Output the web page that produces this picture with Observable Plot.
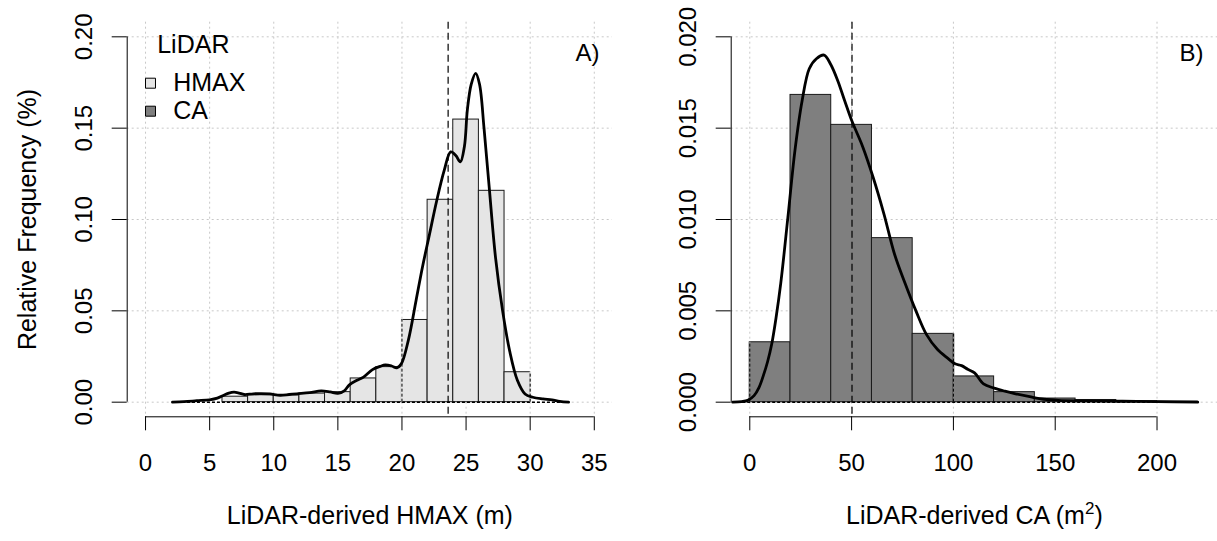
<!DOCTYPE html>
<html><head><meta charset="utf-8">
<script src="https://cdn.jsdelivr.net/npm/d3@7"></script>
<script src="https://cdn.jsdelivr.net/npm/@observablehq/plot@0.6"></script>
<style>
body{margin:0;background:#fff;}
#wrap{position:relative;width:1217px;height:541px;overflow:hidden;background:#fff;}
#left{position:absolute;left:0;top:0;}
#right{position:absolute;left:640px;top:0;}
svg text{font-family:"Liberation Sans",Arial,sans-serif;}
</style></head>
<body><div id="wrap"><div id="left"></div><div id="right"></div></div>
<script>
// ---------- Panel A: LiDAR-derived HMAX ----------
const hmaxBreaks = [6, 8, 10, 12, 14, 16, 18, 20, 22, 24, 26, 28, 30];
const hmaxFreq   = [0.0030, 0.0038, 0.0037, 0.0047, 0.0055, 0.0130, 0.0192, 0.0450, 0.1108, 0.1547, 0.1157, 0.0164];
const hmaxDensX  = [2.1, 3, 4, 5, 5.6, 6.1, 6.5, 6.9, 7.3, 7.7, 8.4, 9.0, 9.7, 10.5, 11.2, 11.8, 12.8, 13.7, 14.4, 15.0, 15.5, 15.9, 16.5, 17.0, 17.7, 18.3, 18.7, 19.2, 19.6, 19.95, 20.5, 21.1, 21.6, 22.15, 22.7, 23.3, 23.8, 24.2, 24.55, 24.87, 25.1, 25.4, 25.75, 26.05, 26.4, 26.8, 27.3, 27.85, 28.4, 29.0, 29.6, 30.2, 31.0, 31.7, 32.3, 33.0];
const hmaxDensY  = [0, 0.0003, 0.0008, 0.0013, 0.0022, 0.0038, 0.0050, 0.0055, 0.0050, 0.0042, 0.0046, 0.0047, 0.0045, 0.0038, 0.0042, 0.0046, 0.0052, 0.0062, 0.0056, 0.0048, 0.0062, 0.0095, 0.0120, 0.0137, 0.0178, 0.0196, 0.0204, 0.0198, 0.0188, 0.0210, 0.0340, 0.0557, 0.0740, 0.0920, 0.1100, 0.1270, 0.1370, 0.1350, 0.1315, 0.1400, 0.1600, 0.1740, 0.1800, 0.1740, 0.1500, 0.1180, 0.0790, 0.0500, 0.0280, 0.0120, 0.0045, 0.0027, 0.0018, 0.0013, 0.0005, 0];
const hmaxMean = 23.6;
const hmaxInterval = [20, 30];
const hmaxXTicks = [0, 5, 10, 15, 20, 25, 30, 35];
const hmaxYTicks = [0, 0.05, 0.10, 0.15, 0.20];

// ---------- Panel B: LiDAR-derived CA ----------
const caBreaks = [0, 20, 40, 60, 80, 100, 120, 140, 160, 180, 200, 220];
const caFreq   = [0.00328, 0.01682, 0.01518, 0.00898, 0.00374, 0.00141, 0.00055, 0.00020, 0.00012, 0.00005, 0.00003];
const caDensX  = [-8.4, -4, -1, 2.1, 4.5, 6.5, 8.7, 10.8, 13, 15.2, 18.7, 22.2, 25.7, 29.2, 32.7, 36.5, 39.7, 43.2, 46.6, 50.1, 55.4, 60.6, 65.9, 71.1, 76.3, 81.6, 86.8, 92.1, 97.3, 100.8, 104, 107, 110.4, 114.8, 120, 125.3, 130.5, 137.5, 144.5, 151.5, 165, 183, 200, 220];
const caDensY  = [0, 0.00003, 0.0001, 0.00036, 0.0008, 0.0014, 0.0022, 0.0032, 0.0047, 0.0065, 0.0101, 0.0138, 0.0165, 0.01825, 0.0188, 0.0190, 0.0185, 0.0176, 0.0165, 0.0154, 0.0140, 0.0123, 0.0103, 0.0081, 0.0065, 0.0050, 0.0037, 0.0029, 0.0024, 0.0021, 0.0020, 0.0018, 0.0016, 0.0010, 0.00077, 0.0006, 0.00046, 0.0003, 0.00016, 0.0001, 0.00007, 0.00005, 0.00003, 0];
const caMean = 50.2;
const caInterval = [0, 100];
const caXTicks = [0, 50, 100, 150, 200];
const caYTicks = [0, 0.005, 0.010, 0.015, 0.020];

// ---------- Legend ----------
const legendTitle = "LiDAR";
const legendLabels = ["HMAX", "CA"];
const legendFills = ["#e5e5e5", "#7f7f7f"];

const FONT = 24;
const TITLE_FONT = 25;

function panel(o) {
  const bins = o.freq.map((h, i) => ({x1: o.breaks[i], x2: o.breaks[i + 1], h}));
  const heightAt = x => d3.max(bins.filter(b => b.x1 === x || b.x2 === x), b => b.h) || 0;
  const edges = o.interval.map(x => ({x, h: heightAt(x)}));
  const dens = o.densX.map((x, i) => ({x, y: o.densY[i]}));
  const grid = {stroke: "#c8c8c8", strokeOpacity: 1, strokeDasharray: "2,3", strokeWidth: 1};
  const marks = [
    Plot.gridX(o.xTicks, grid),
    Plot.gridY(o.yTicks, grid),
    Plot.rect(bins, {x1: "x1", x2: "x2", y1: 0, y2: "h", fill: o.fill, stroke: "#1a1a1a", strokeWidth: 1}),
    Plot.ruleX(edges, {x: "x", y1: 0, y2: "h", stroke: o.fill, strokeWidth: 2}),
    Plot.ruleX(edges, {x: "x", y1: 0, y2: "h", stroke: "#000", strokeDasharray: "3,2", strokeWidth: 1}),
    Plot.ruleY([{y: 0, x1: d3.min(o.densX), x2: d3.max(o.densX)}], {y: "y", x1: "x1", x2: "x2", stroke: "#000", strokeDasharray: "3,2", strokeWidth: 1.4}),
    Plot.line(dens, {x: "x", y: "y", curve: "catmull-rom", stroke: "#000", strokeWidth: 2.8}),
    Plot.ruleX([o.mean], {stroke: "#000", strokeDasharray: "7,4", strokeWidth: 1.2}),
    // R-style axes
    Plot.ruleY([{y: o.yDomain[0], x1: o.xTicks[0], x2: o.xTicks[o.xTicks.length - 1]}], {y: "y", x1: "x1", x2: "x2", stroke: "#000", strokeWidth: 1}),
    Plot.ruleX([{x: o.xDomain[0], y1: o.yTicks[0], y2: o.yTicks[o.yTicks.length - 1]}], {x: "x", y1: "y1", y2: "y2", stroke: "#000", strokeWidth: 1}),
    Plot.axisX({ticks: o.xTicks, tickSize: 14, tickFormat: () => "", label: null, stroke: "#000"}),
    Plot.axisY({ticks: o.yTicks, tickSize: 15, tickFormat: () => "", label: null, stroke: "#000"}),
    Plot.text(o.xTicks, {x: d => d, text: d => String(d), frameAnchor: "bottom", dy: 47, fontSize: FONT, textAnchor: "middle", lineAnchor: "middle", fill: "#000"}),
    Plot.text(o.yTicks, {y: d => d, text: o.yFmt, frameAnchor: "left", dx: -43, rotate: -90, fontSize: FONT, textAnchor: "middle", lineAnchor: "middle", fill: "#000"}),
    Plot.text([o.xTitle], {text: d => d, frameAnchor: "bottom", dy: 99, fontSize: TITLE_FONT, textAnchor: "middle", lineAnchor: "middle", fill: "#000"}),
    Plot.text([o.tag], {text: d => d, frameAnchor: "top-right", dx: o.tagDx, dy: 31, fontSize: FONT, textAnchor: "middle", lineAnchor: "middle", fill: "#000"})
  ];
  if (o.yTitle) {
    marks.push(Plot.text([o.yTitle], {text: d => d, frameAnchor: "left", dx: -99, rotate: -90, fontSize: TITLE_FONT, textAnchor: "middle", lineAnchor: "middle", fill: "#000"}));
  }
  if (o.legend) {
    marks.push(Plot.text([legendTitle], {text: d => d, frameAnchor: "top-left", dx: 30, dy: 23, fontSize: TITLE_FONT, textAnchor: "start", lineAnchor: "middle", fill: "#000"}));
    const rowDy = [61, 89];
    legendLabels.forEach((lab, i) => {
      marks.push(Plot.dot([lab], {frameAnchor: "top-left", dx: 23.3, dy: rowDy[i], symbol: "square", r: 5.64, fill: legendFills[i], stroke: "#000", strokeWidth: 1}));
      marks.push(Plot.text([lab], {text: d => d, frameAnchor: "top-left", dx: 46, dy: rowDy[i], fontSize: TITLE_FONT, textAnchor: "start", lineAnchor: "middle", fill: "#000"}));
    });
  }
  return Plot.plot({
    width: o.width, height: 541,
    marginLeft: o.marginLeft, marginRight: o.marginRight, marginTop: 21.7, marginBottom: 124.7,
    x: {domain: o.xDomain, axis: null},
    y: {domain: o.yDomain, axis: null},
    style: {background: "transparent", color: "#000", fontFamily: '"Liberation Sans", Arial, sans-serif', fontSize: FONT + "px", overflow: "visible"},
    marks
  });
}

const left = panel({
  width: 640, marginLeft: 126.7, marginRight: 28,
  xDomain: [-1.43, 36.42], yDomain: [-0.008, 0.208],
  breaks: hmaxBreaks, freq: hmaxFreq, fill: legendFills[0],
  densX: hmaxDensX, densY: hmaxDensY, mean: hmaxMean, interval: hmaxInterval,
  xTicks: hmaxXTicks, yTicks: hmaxYTicks, yFmt: d3.format(".2f"),
  xTitle: "LiDAR-derived HMAX (m)", yTitle: "Relative Frequency (%)",
  tag: "A)", tagDx: -25, legend: true
});
document.getElementById("left").appendChild(left);

const caTitle = "LiDAR-derived CA (m2)";
const right = panel({
  width: 577, marginLeft: 90.7, marginRight: 0,
  xDomain: [-9.13, 229.7], yDomain: [-0.0008, 0.0208],
  breaks: caBreaks, freq: caFreq, fill: legendFills[1],
  densX: caDensX, densY: caDensY, mean: caMean, interval: caInterval,
  xTicks: caXTicks, yTicks: caYTicks, yFmt: d3.format(".3f"),
  xTitle: caTitle, yTitle: null,
  tag: "B)", tagDx: -26, legend: false
});
document.getElementById("right").appendChild(right);

// superscript for m^2
right.querySelectorAll("text").forEach(t => {
  if (t.textContent === caTitle) {
    t.textContent = "";
    const ns = "http://www.w3.org/2000/svg";
    const a = document.createElementNS(ns, "tspan"); a.textContent = "LiDAR-derived CA (m";
    const b = document.createElementNS(ns, "tspan"); b.textContent = "2"; b.setAttribute("dy", "-10"); b.setAttribute("font-size", "17");
    const c = document.createElementNS(ns, "tspan"); c.textContent = ")"; c.setAttribute("dy", "10");
    t.append(a, b, c);
  }
});
</script>
</body></html>
